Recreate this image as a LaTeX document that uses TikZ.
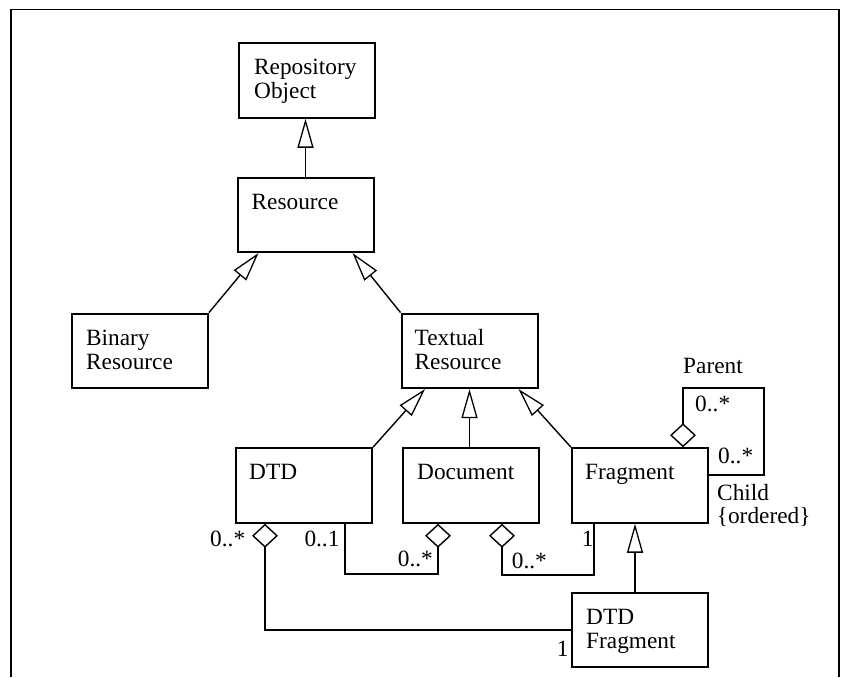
\documentclass[tikz,border=0pt]{standalone}
\usepackage{fontspec}
\setmainfont{Liberation Serif}
\usetikzlibrary{arrows.meta,calc}
\newcommand\umlfont{\fontsize{23.3}{24}\selectfont}
\newcommand\twoline[2]{\begin{tabular}[t]{@{}l@{}}#1\\#2\end{tabular}}
\tikzset{
  umlclass/.style={draw, line width=2pt, minimum width=136pt, minimum height=74.5pt, inner sep=0pt},
  classname/.style={anchor=base west, inner sep=0pt, font=\umlfont},
  mult/.style={anchor=base west, inner sep=0pt, font=\umlfont},
  generalize/.style={line width=1.4pt, -{Triangle[open, length=29pt, width=16pt, line width=1.3pt]}},
  aggregate/.style={line width=1.8pt, {Diamond[open, length=24pt, width=26pt, line width=1.4pt]}-},
}
\begin{document}
\begin{tikzpicture}[x=1pt, y=-1pt]
\useasboundingbox (0,0) rectangle (850,677);

% outer frame (open at the bottom)
\draw[line width=1.8pt] (11,677) -- (11,9.5) -- (839,9.5) -- (839,677);

% classes
\node[umlclass] (rep) at (307,80.5)   {};
\node[umlclass] (res) at (305.5,214.8) {};
\node[umlclass] (bin) at (140,350.8)  {};
\node[umlclass] (txt) at (469.5,350.8) {};
\node[umlclass] (dtd) at (304,485.5)  {};
\node[umlclass] (doc) at (471,485.5)  {};
\node[umlclass] (frg) at (640,485.5)  {};
\node[umlclass] (dfr) at (640,630)    {};

% class names
\node[classname] (repname) at ($(rep.north west)+(16pt,-32.5pt)$) {\twoline{Repository}{Object}};
\node[classname] (resname) at ($(res.north west)+(15pt,-32.5pt)$) {Resource};
\node[classname] (binname) at ($(bin.north west)+(15pt,-32.5pt)$) {\twoline{Binary}{Resource}};
\node[classname] (txtname) at ($(txt.north west)+(14pt,-32.5pt)$) {\twoline{Textual}{Resource}};
\node[classname] (dtdname) at ($(dtd.north west)+(14pt,-32.5pt)$) {DTD};
\node[classname] (docname) at ($(doc.north west)+(15pt,-32.5pt)$) {Document};
\node[classname] (frgname) at ($(frg.north west)+(14pt,-32.5pt)$) {Fragment};
\node[classname] (dfrname) at ($(dfr.north west)+(15pt,-32.5pt)$) {\twoline{DTD}{Fragment}};

% generalizations
\draw[generalize] (res.north) -- (res.north |- rep.south);
\draw[generalize] (bin.north east) -- ($(res.south west)+(22pt,0)$);
\draw[generalize] (txt.north west) -- ($(res.south east)+(-22pt,0)$);
\draw[generalize] (dtd.north east) -- ($(txt.south west)+(24.5pt,0)$);
\draw[generalize] (txt.south |- doc.north) -- (txt.south);
\draw[generalize] (frg.north west) -- ($(txt.south east)+(-20pt,0)$);
\coordinate (dfrtop) at ($(dfr.north)+(-5pt,0)$);
\draw[generalize] (dfrtop) -- (dfrtop |- frg.south);

% aggregations
\coordinate (dtdagg) at ($(dtd.south west)+(30pt,0)$);
\draw[aggregate] (dtdagg) |- (dfr.west);

\coordinate (dtdout) at ($(dtd.south west)+(110pt,0)$);
\coordinate (docaggA) at ($(doc.south west)+(36pt,0)$);
\coordinate (lowA) at (0,574);
\draw[aggregate] (docaggA) -- (docaggA |- lowA) -| (dtdout);

\coordinate (docaggB) at ($(doc.south west)+(100pt,0)$);
\coordinate (frgout) at ($(frg.south west)+(23pt,0)$);
\coordinate (lowB) at (0,575);
\draw[aggregate] (docaggB) -- (docaggB |- lowB) -| (frgout);

\coordinate (selfagg) at ($(frg.north west)+(112pt,0)$);
\coordinate (loopcorner) at (764,388);
\coordinate (selfend) at ($(frg.north east)+(0,-28pt)$);
\draw[aggregate] (selfagg) -- (selfagg |- loopcorner) -- (loopcorner) -- (loopcorner |- selfend) -- (selfend);

% multiplicities and roles
\node[mult] (mDtdAgg)  at (210,546.7) {0..*};
\node[mult] (mDtdOne)  at (304.3,546.7) {0..1};
\node[mult] (mDocDtd)  at (397.7,566.7) {0..*};
\node[mult] (mDocFrg)  at (511.7,568) {0..*};
\node[mult] (mFrgOne)  at (581.7,546.7) {1};
\node[mult] (mDfrOne)  at (556.7,656.7) {1};
\node[mult] (parent)   at (683,373) {Parent};
\node[mult] (mParent)  at (695,411.7) {0..*};
\node[mult] (mChild)   at (718,463) {0..*};
\node[mult] (child)    at (717,500.7) {Child};
\node[mult] (ordered)  at (716.7,523.3) {\{ordered\}};
\end{tikzpicture}
\end{document}
